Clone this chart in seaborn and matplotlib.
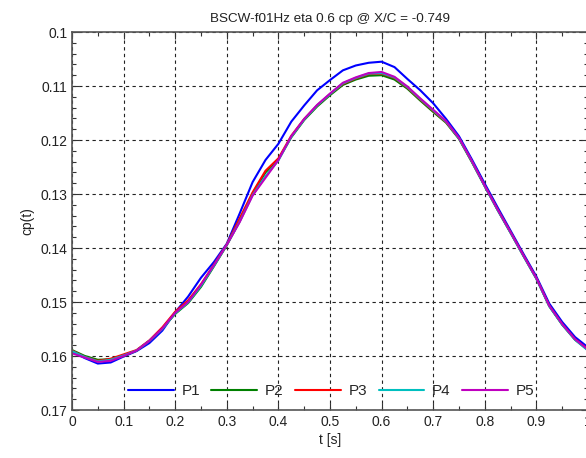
import pandas as pd
import seaborn as sns
import matplotlib.pyplot as plt
import numpy as np
from matplotlib.ticker import MultipleLocator, FuncFormatter

# time samples [s]
t = [0.000, 0.025, 0.050, 0.075, 0.100, 0.125, 0.150, 0.175, 0.200, 0.225,
     0.250, 0.275, 0.300, 0.325, 0.350, 0.375, 0.400, 0.425, 0.450, 0.475,
     0.500, 0.525, 0.550, 0.575, 0.600, 0.625, 0.650, 0.675, 0.700, 0.725,
     0.750, 0.775, 0.800, 0.825, 0.850, 0.875, 0.900, 0.925, 0.950, 0.975, 1.000]

# cp(t), one list per probe
p1 = [0.1592, 0.1604, 0.1614, 0.1612, 0.1601, 0.1591, 0.1576, 0.1553, 0.1519, 0.1490,
      0.1455, 0.1426, 0.1392, 0.1336, 0.1278, 0.1237, 0.1207, 0.1166, 0.1136, 0.1108,
      0.1089, 0.1071, 0.1062, 0.1057, 0.1055, 0.1065, 0.1087, 0.1108, 0.1132, 0.1161,
      0.1193, 0.1236, 0.1281, 0.1325, 0.1368, 0.1411, 0.1453, 0.1503, 0.1537, 0.1565, 0.1584]
p2 = [0.1589, 0.1600, 0.1607, 0.1606, 0.1600, 0.1590, 0.1572, 0.1549, 0.1522, 0.1502,
      0.1472, 0.1434, 0.1395, 0.1350, 0.1299, 0.1260, 0.1236, 0.1195, 0.1163, 0.1138,
      0.1117, 0.1098, 0.1088, 0.1081, 0.1080, 0.1088, 0.1105, 0.1127, 0.1148, 0.1168,
      0.1198, 0.1241, 0.1286, 0.1330, 0.1372, 0.1415, 0.1457, 0.1508, 0.1542, 0.1570, 0.1589]
p3 = [0.1590, 0.1602, 0.1609, 0.1605, 0.1597, 0.1589, 0.1571, 0.1547, 0.1518, 0.1497,
      0.1467, 0.1431, 0.1393, 0.1345, 0.1297, 0.1257, 0.1234, 0.1192, 0.1161, 0.1136,
      0.1115, 0.1096, 0.1086, 0.1078, 0.1077, 0.1085, 0.1103, 0.1125, 0.1146, 0.1167,
      0.1197, 0.1240, 0.1285, 0.1329, 0.1371, 0.1414, 0.1456, 0.1507, 0.1541, 0.1569, 0.1588]
p4 = [0.1591, 0.1602, 0.1610, 0.1607, 0.1599, 0.1590, 0.1572, 0.1550, 0.1521, 0.1501,
      0.1470, 0.1433, 0.1394, 0.1351, 0.1302, 0.1267, 0.1238, 0.1194, 0.1162, 0.1136,
      0.1115, 0.1095, 0.1085, 0.1077, 0.1076, 0.1084, 0.1102, 0.1124, 0.1145, 0.1166,
      0.1197, 0.1240, 0.1286, 0.1330, 0.1372, 0.1415, 0.1457, 0.1508, 0.1542, 0.1570, 0.1590]
p5 = [0.1595, 0.1603, 0.1611, 0.1609, 0.1600, 0.1590, 0.1572, 0.1549, 0.1520, 0.1500,
      0.1468, 0.1432, 0.1394, 0.1352, 0.1303, 0.1270, 0.1237, 0.1193, 0.1161, 0.1135,
      0.1114, 0.1094, 0.1084, 0.1076, 0.1074, 0.1083, 0.1101, 0.1123, 0.1144, 0.1165,
      0.1196, 0.1239, 0.1285, 0.1329, 0.1371, 0.1414, 0.1456, 0.1507, 0.1541, 0.1569, 0.1588]

probes = ["P1", "P2", "P3", "P4", "P5"]
colors = ["#0000ff", "#008000", "#ff0000", "#00bfbf", "#bf00bf"]

# long format for seaborn
df = pd.concat([pd.DataFrame({"t": t, "cp": v, "probe": name})
                for name, v in zip(probes, [p1, p2, p3, p4, p5])], ignore_index=True)

sns.set_theme(style="ticks")
plt.rcParams['font.family'] = ['Liberation Sans', 'DejaVu Sans']

fig = plt.figure(figsize=(5.86, 4.58), dpi=100)
ax = fig.add_axes([72 / 586, 1 - 410 / 458, 516 / 586, 378 / 458])

sns.lineplot(data=df, x="t", y="cp", hue="probe", palette=colors,
             linewidth=1.5, ax=ax, legend=False)

ax.set_xlim(0, 1)
ax.set_ylim(0.17, 0.1)
ax.xaxis.set_major_locator(MultipleLocator(0.1))
ax.xaxis.set_minor_locator(MultipleLocator(0.05))
ax.yaxis.set_major_locator(MultipleLocator(0.01))
ax.yaxis.set_minor_locator(MultipleLocator(0.002))
fmt = FuncFormatter(lambda v, p: "%g" % round(v, 3))
ax.xaxis.set_major_formatter(fmt)
ax.yaxis.set_major_formatter(fmt)
ax.tick_params(which="both", direction="in", top=True, right=True,
               labelsize=10, colors="#333333", labelcolor="#222222")
ax.tick_params(which="major", length=5, width=0.8)
ax.tick_params(which="minor", length=3, width=0.8)
ax.grid(True, which="major", color="#222222", linestyle=(0, (3, 3)), linewidth=0.8)
for s in ax.spines.values():
    s.set_color("#555555")
    s.set_linewidth(1.2)

ax.set_xlabel("t [s]", fontsize=10, color="#222222", labelpad=3)
ax.set_ylabel("cp(t)", fontsize=10, color="#222222", labelpad=4)
ax.set_title("BSCW-f01Hz eta 0.6 cp @ X/C = -0.749", fontsize=9.7, color="#222222", pad=7)

handles = ax.get_lines()[:5]
ax.legend(handles, probes, ncol=5, frameon=False, loc="center",
          bbox_to_anchor=(0.502, 0.05), handlelength=3.0, columnspacing=0.75,
          handletextpad=0.5, fontsize=11)

fig.savefig("out.png", dpi=100)
